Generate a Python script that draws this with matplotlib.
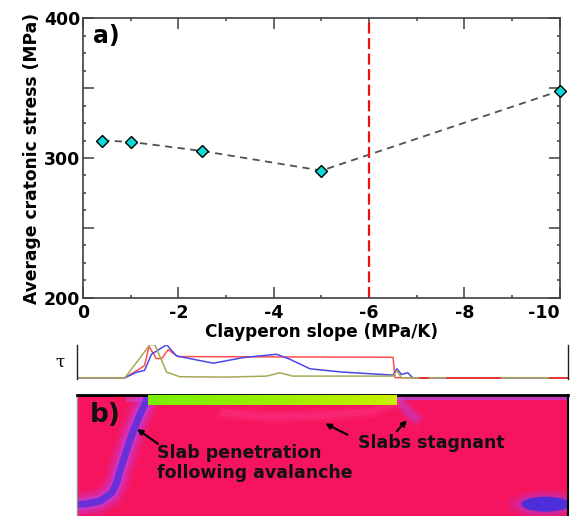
import matplotlib.pyplot as plt
import numpy as np
from matplotlib.ticker import MultipleLocator, FuncFormatter
from matplotlib.patches import Ellipse
from matplotlib.colors import LinearSegmentedColormap

plt.rcParams['font.family'] = 'DejaVu Sans'
plt.rcParams['axes.unicode_minus'] = False

# panel a) : average cratonic stress vs Clapeyron slope
clapeyron = [-0.4, -1.0, -2.5, -5.0, -10.0]
stress = [312.5, 311.5, 305, 291, 348]
critical_slope = -6.0
x_ticks = [0, -2, -4, -6, -8, -10]
x_ticklabels = ['0', '-2', '-4', '-6', '-8', '-10']

# tau panel, x in percent of the model box, y normalised
blue_x = [0, 9.8, 12.2, 13.8, 15.2, 18.3, 20.3, 23.7, 27.8, 33.9, 40.7, 43.4, 47.5, 54.2, 64.4, 65.2, 66.1, 67.4, 68.4, 100]
blue_y = [0, 0, 0.17, 0.22, 0.71, 1.0, 0.66, 0.56, 0.44, 0.61, 0.71, 0.56, 0.27, 0.17, 0.08, 0.27, 0.1, 0.15, 0, 0]
red_x = [0, 9.8, 12.8, 13.8, 14.7, 16.2, 17.3, 18.6, 20.6, 64.4, 64.8, 100]
red_y = [0, 0, 0.27, 0.37, 0.95, 0.58, 0.58, 0.85, 0.64, 0.62, 0, 0]
olive_x = [0, 9.8, 14.9, 15.9, 18.3, 21.0, 30.5, 38.7, 41.3, 44.0, 64.4, 65.2, 66.1, 100]
olive_y = [0, 0, 1.0, 1.0, 0.17, 0.03, 0.02, 0.05, 0.15, 0.05, 0.05, 0.22, 0, 0]
red_base_start = [69.9, 75.4, 96.3]
red_base_end = [71.5, 86.2, 100]

# panel b) : features of the temperature field (x percent, depth 0-1)
slab_x = [14.5, 13.8, 12.8, 11.8, 10.8, 9.8, 8.8, 8.1, 7.1, 4.7, 1.6, 0]
slab_y = [0, 0.074, 0.148, 0.237, 0.333, 0.444, 0.556, 0.644, 0.719, 0.778, 0.8, 0.8]
craton_start, craton_end, craton_depth = 14.5, 65.2, 0.074
stag_x = [65.2, 66.5, 68.0, 69.0]
stag_y = [0, 0.08, 0.14, 0.17]
stag2_x = [30, 40, 50, 60, 65]
stag2_y = [0.13, 0.16, 0.15, 0.12, 0.05]
blob_x, blob_y, blob_w, blob_h = 95.5, 0.80, 10, 0.11

fig = plt.figure(figsize=(5.73, 5.16), dpi=100)

# ---- panel a
ax = fig.add_axes([0.145, 0.4225, 0.832, 0.5426])
ax.plot(clapeyron, stress, ls=(0, (4, 3)), color='#505050', lw=1.3)
ax.plot(clapeyron, stress, ls='none', marker='D', ms=6.5, mfc='#10D8D8', mec='black', mew=1.0,
        clip_on=False, zorder=5)
ax.axvline(critical_slope, color='#F01010', lw=1.6, ls=(0, (5, 2)))
ax.set_xlim(0, -10)
ax.set_ylim(200, 400)
ax.set_xticks(x_ticks)
xl = ax.set_xticklabels(x_ticklabels, fontweight='bold')
xl[-1].set_horizontalalignment('right')
ax.xaxis.set_minor_locator(MultipleLocator(1))
ax.yaxis.set_major_locator(MultipleLocator(50))
ax.yaxis.set_minor_locator(MultipleLocator(12.5))
ax.yaxis.set_major_formatter(FuncFormatter(lambda v, p: '%d' % v if v % 100 == 0 else ''))
ax.tick_params(which='both', direction='in', top=True, right=True, color='#404040', width=1.1)
ax.tick_params(which='major', length=8, labelsize=12.5)
ax.tick_params(axis='x', which='major', pad=4)
ax.tick_params(axis='y', which='major', pad=2)
for lab in ax.get_yticklabels():
    lab.set_fontweight('bold')
for s in ax.spines.values():
    s.set_color('#404040')
    s.set_linewidth(1.2)
ax.set_xlabel('Clayperon slope (MPa/K)', fontsize=12.2, fontweight='bold', labelpad=1)
ax.set_ylabel('Average cratonic stress (MPa)', fontsize=12.3, fontweight='bold', labelpad=2)
ax.text(0.02, 0.935, 'a)', transform=ax.transAxes, fontsize=17, fontweight='bold', va='center')

# ---- tau panel
at = fig.add_axes([0.134, 0.266, 0.857, 0.066])
at.plot(red_x, red_y, color='#FF5050', lw=1.1)
at.plot(blue_x, blue_y, color='#4848E8', lw=1.1)
at.plot(olive_x, olive_y, color='#A8A858', lw=1.1)
for a, b in zip(red_base_start, red_base_end):
    at.plot([a, b], [0, 0], color='#E83030', lw=1.3)
at.set_xlim(0, 100)
at.set_ylim(-0.03, 1.0)
at.set_xticks([])
at.set_yticks([])
at.spines['top'].set_visible(False)
at.spines['bottom'].set_visible(False)
for s in ['left', 'right']:
    at.spines[s].set_color('#202020')
    at.spines[s].set_linewidth(1.0)
at.set_ylabel('τ', family='DejaVu Serif', fontsize=12, rotation=0, labelpad=12, va='center')

# ---- panel b
ab = fig.add_axes([0.134, -0.03, 0.857, 0.2645])
ab.set_facecolor('#F6145F')
for w, al in [(20, 0.15), (14, 0.3), (9, 0.5)]:
    ab.plot(slab_x, slab_y, color='#C040E8', lw=w, alpha=al, solid_capstyle='butt')
ab.plot(slab_x, slab_y, color='#5030E0', lw=5, alpha=0.8)
for w, al in [(10, 0.2), (5, 0.35)]:
    ab.plot(stag_x, stag_y, color='#B848E8', lw=w, alpha=al)
    ab.plot(stag2_x, stag2_y, color='#FF50A0', lw=w, alpha=al * 0.6)
ab.axhspan(0, 0.04, xmin=craton_end / 100, xmax=1, color='#A050F0', alpha=0.6, lw=0)
ab.axhspan(0, 0.05, xmin=0.10, xmax=craton_start / 100, color='#C050E0', alpha=0.5, lw=0)
green = LinearSegmentedColormap.from_list('g', ['#78F000', '#98F000', '#C8F000'])
ab.imshow([np.linspace(0, 1, 50)], cmap=green, aspect='auto',
          extent=[craton_start, craton_end, craton_depth, 0], zorder=3)
for w, al in [(6, 0.15), (3, 0.3)]:
    ab.add_patch(Ellipse((blob_x, blob_y), blob_w + w, blob_h + w / 60, color='#A040F0', alpha=al, lw=0))
ab.add_patch(Ellipse((blob_x, blob_y), blob_w, blob_h, color='#4030E0', alpha=0.9, lw=0))
ab.set_xlim(0, 100)
ab.set_ylim(1, 0)
ab.set_xticks([])
ab.set_yticks([])
ab.spines['top'].set_linewidth(2)
ab.spines['right'].set_linewidth(1.5)
ab.spines['left'].set_color('#909090')
ab.spines['left'].set_linewidth(1)
ab.text(2.6, 0.15, 'b)', fontsize=19, fontweight='bold', va='center', color='#111111')
ab.annotate('', xy=(11.8, 0.237), xytext=(17.0, 0.37),
            arrowprops=dict(arrowstyle='-|>', color='black', lw=1.5, mutation_scale=8))
ab.text(16.3, 0.36, 'Slab penetration\nfollowing avalanche', fontsize=12.5, fontweight='bold',
        va='top', ha='left', linespacing=1.15, color='#111111')
ab.annotate('', xy=(50.1, 0.20), xytext=(55.6, 0.30),
            arrowprops=dict(arrowstyle='-|>', color='black', lw=1.5, mutation_scale=8))
ab.annotate('', xy=(67.6, 0.17), xytext=(64.8, 0.28),
            arrowprops=dict(arrowstyle='-|>', color='black', lw=1.5, mutation_scale=8))
ab.text(57.2, 0.355, 'Slabs stagnant', fontsize=12.5, fontweight='bold', va='center',
        ha='left', color='#111111')

fig.savefig('out.png', dpi=100)
